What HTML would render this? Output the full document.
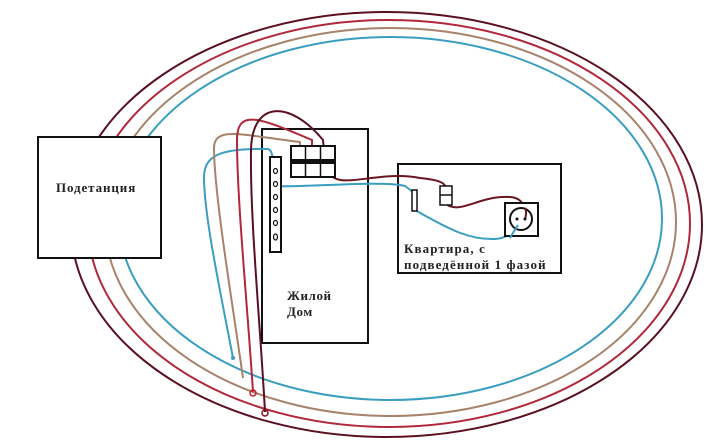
<!DOCTYPE html>
<html><head><meta charset="utf-8"><style>
html,body{margin:0;padding:0;background:#fff;}
svg{display:block}
text{font-family:"Liberation Serif",serif;font-weight:bold;font-size:13px;fill:#222}
</style></head><body>
<svg width="720" height="445" viewBox="0 0 720 445">
<g fill="none" stroke-width="2">
<ellipse cx="386.5" cy="224.5" rx="315.5" ry="212.5" stroke="#5a1020"/>
<ellipse cx="389" cy="223.5" rx="301" ry="203.5" stroke="#b0283a"/>
<ellipse cx="390.5" cy="222" rx="285.5" ry="194" stroke="#a8826a"/>
<ellipse cx="390.5" cy="218.5" rx="271.5" ry="181.5" stroke="#3a9ec0"/>
</g>
<rect x="38" y="137" width="123" height="121" fill="#fff" stroke="#111" stroke-width="2"/>
<text x="56" y="192" style="letter-spacing:0.9px">Подетанция</text>
<rect x="262" y="129" width="106" height="214" fill="#fff" stroke="#111" stroke-width="2"/>
<text x="287" y="300" style="letter-spacing:0.6px">Жилой</text>
<text x="287" y="316" style="letter-spacing:0.6px">Дом</text>
<rect x="398" y="164" width="163" height="109" fill="#fff" stroke="#111" stroke-width="2"/>
<text x="404" y="253" style="letter-spacing:1.1px">Квартира, с</text>
<text x="404" y="269" style="letter-spacing:1.1px">подведённой 1 фазой</text>
<g fill="none" stroke-width="2">
<path d="M233,358 C220,290 205,220 204,180 C203,155 220,148 268,149 C272,150 273,158 273,165" stroke="#3a9ec0"/>
<path d="M243,378 C232,300 215,200 214,150 C213,125 240,135 300,142 L300,150" stroke="#a8826a"/>
<path d="M253,392 C247,300 237,200 237,140 C237,108 260,118 312,140 L312,150" stroke="#b0283a"/>
<path d="M265,412 C260,320 250,220 251,150 C252,100 290,100 323,140 L324,150" stroke="#5a1020"/>
<path d="M330,174 C340,190 380,170 420,178 C440,180 445,183 446,188" stroke="#6a1520"/>
<path d="M275,186 C300,188 380,180 405,186 L413,192" stroke="#3a9ec0"/>
<path d="M446,204 C460,215 480,195 510,197 C525,198 525,210 525,218" stroke="#6a1520"/>
<path d="M415,210 C450,230 470,240 495,239 C510,238 515,230 518,220" stroke="#3a9ec0"/>
</g>
<circle cx="233" cy="358" r="2" fill="#3a9ec0"/>
<circle cx="253" cy="393" r="3" fill="none" stroke="#c02030" stroke-width="1.5"/>
<circle cx="265" cy="413" r="3" fill="none" stroke="#8a1020" stroke-width="1.5"/>
<rect x="291" y="146" width="44" height="31" fill="#fff" stroke="#111" stroke-width="2"/>
<rect x="291" y="159" width="44" height="5" fill="#111"/>
<line x1="305.5" y1="146" x2="305.5" y2="177" stroke="#111" stroke-width="1.5"/>
<line x1="320.5" y1="146" x2="320.5" y2="177" stroke="#111" stroke-width="1.5"/>
<rect x="270" y="157" width="11" height="95" fill="#fff" stroke="#111" stroke-width="2"/>
<g fill="none" stroke="#111" stroke-width="1.2">
<ellipse cx="275.5" cy="171" rx="2" ry="2.5"/><ellipse cx="275.5" cy="184" rx="2" ry="2.5"/>
<ellipse cx="275.5" cy="197" rx="2" ry="2.5"/><ellipse cx="275.5" cy="210" rx="2" ry="2.5"/>
<ellipse cx="275.5" cy="223" rx="2" ry="2.5"/><ellipse cx="275.5" cy="237" rx="2" ry="3"/>
</g>
<rect x="440" y="186" width="12" height="19" fill="#fff" stroke="#111" stroke-width="1.5"/>
<line x1="440" y1="195" x2="452" y2="195" stroke="#111" stroke-width="1.5"/>
<rect x="412" y="190" width="5" height="21" fill="#fff" stroke="#111" stroke-width="1.5"/>
<rect x="505" y="203" width="33" height="33" fill="#fff" stroke="#111" stroke-width="2"/>
<circle cx="521" cy="219" r="11" fill="none" stroke="#111" stroke-width="2"/>
<path d="M525,208 C527,212 526,216 525,219" stroke="#6a1520" stroke-width="2" fill="none"/>
<path d="M518,225 C515,230 512,234 510,238" stroke="#3a9ec0" stroke-width="2" fill="none"/>
<circle cx="517" cy="219" r="1.5" fill="#111"/><circle cx="525" cy="219" r="1.5" fill="#111"/>
</svg>
</body></html>
